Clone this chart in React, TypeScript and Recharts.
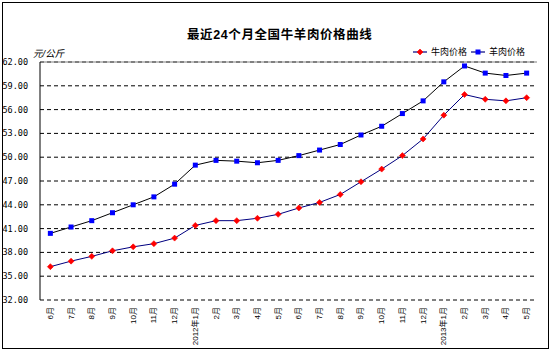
import React from "react";
import {
  CartesianGrid,
  Line,
  LineChart,
  ReferenceLine,
  XAxis,
  YAxis,
} from "recharts";

const months = [
  "6月", "7月", "8月", "9月", "10月", "11月", "12月", "2012年1月",
  "2月", "3月", "4月", "5月", "6月", "7月", "8月", "9月", "10月", "11月",
  "12月", "2013年1月", "2月", "3月", "4月", "5月",
];

// 牛肉价格 (元/公斤)
const beefPrices = [
  36.2, 36.9, 37.5, 38.2, 38.7, 39.1, 39.8, 41.4, 42.0, 42.0, 42.3, 42.8,
  43.6, 44.3, 45.3, 46.9, 48.5, 50.2, 52.3, 55.3, 57.9, 57.3, 57.1, 57.5,
];

// 羊肉价格 (元/公斤)
const muttonPrices = [
  40.4, 41.2, 42.0, 43.0, 44.0, 45.0, 46.6, 49.0, 49.6, 49.5, 49.3, 49.6,
  50.2, 50.9, 51.6, 52.8, 53.9, 55.5, 57.1, 59.5, 61.5, 60.6, 60.3, 60.6,
];

const yTicks = [32, 35, 38, 41, 44, 47, 50, 53, 56, 59, 62];

const data = months.map((m, i) => ({
  month: m,
  beef: beefPrices[i],
  mutton: muttonPrices[i],
}));

// excel-style tick marks sit between categories
const boundaryTicks = months.map((_, i) => i).concat(months.length);

const PLOT_W = 497;
// half a category on each side so points sit mid-slot
const HALF_SLOT = PLOT_W / months.length / 2;

const CJK = '"Liberation Sans", "Noto Sans CJK SC", sans-serif';
const BEEF_LINE = "#000080";
const MUTTON_LINE = "#000000";

function BeefDot({ cx, cy }: any) {
  if (cx == null || cy == null) return null;
  const r = 3;
  return (
    <path
      d={`M${cx} ${cy - r}L${cx + r} ${cy}L${cx} ${cy + r}L${cx - r} ${cy}Z`}
      fill="#ff0000"
      stroke="#ff0000"
      strokeWidth={0.6}
    />
  );
}

function MuttonDot({ cx, cy }: any) {
  if (cx == null || cy == null) return null;
  return <rect x={cx - 2.5} y={cy - 2.5} width={5} height={5} fill="#0000ff" />;
}

function MonthTick({ x, y, payload }: any) {
  return (
    <g transform={`translate(${x},${y})`}>
      <text
        transform="rotate(-90)"
        x={-7}
        y={0}
        textAnchor="end"
        dominantBaseline="central"
        fontSize={8}
        fontFamily={CJK}
        fill="#000"
      >
        {payload.value}
      </text>
    </g>
  );
}

function PriceTick({ x, y, payload }: any) {
  return (
    <text
      x={x}
      y={y}
      textAnchor="end"
      dominantBaseline="central"
      fontSize={8.5}
      fontFamily='"DejaVu Sans Mono", monospace'
      fill="#000"
    >
      {payload.value.toFixed(2)}
    </text>
  );
}

function LegendItem({ label, line, dot }: { label: string; line: string; dot: "beef" | "mutton" }) {
  return (
    <span style={{ display: "inline-flex", alignItems: "center", marginRight: 4 }}>
      <svg width={14} height={8} style={{ marginRight: 4 }}>
        <line x1={0} y1={4} x2={14} y2={4} stroke={line} strokeWidth={1.2} />
        {dot === "beef" ? <BeefDot cx={7} cy={4} /> : <MuttonDot cx={7} cy={4} />}
      </svg>
      <span>{label}</span>
    </span>
  );
}

export default function App() {
  return (
    <div
      style={{
        position: "absolute",
        left: 0,
        top: 0,
        width: 553,
        height: 354,
        background: "#fff",
        fontFamily: CJK,
      }}
    >
      <div
        style={{
          position: "absolute",
          left: 2,
          top: 2,
          width: 545,
          height: 345,
          border: "1.5px solid #000",
        }}
      />
      <div
        style={{
          position: "absolute",
          left: 187,
          top: 24,
          fontSize: 12.5,
          fontWeight: "bold",
          letterSpacing: 0.6,
          whiteSpace: "nowrap",
        }}
      >
        最近24个月全国牛羊肉价格曲线
      </div>
      <div
        style={{
          position: "absolute",
          left: 33,
          top: 46,
          fontSize: 9.5,
          fontStyle: "italic",
        }}
      >
        元/公斤
      </div>
      <div
        style={{
          position: "absolute",
          left: 413,
          top: 45,
          fontSize: 9,
          display: "flex",
          alignItems: "center",
        }}
      >
        <LegendItem label="牛肉价格" line={BEEF_LINE} dot="beef" />
        <LegendItem label="羊肉价格" line={BEEF_LINE} dot="mutton" />
      </div>
      <div style={{ position: "absolute", left: 0, top: 0 }}>
        <LineChart
          width={553}
          height={354}
          data={data}
          margin={{ top: 62, right: 16, bottom: 0, left: 3 }}
        >
          <CartesianGrid
            horizontal
            vertical={false}
            stroke="#000"
            strokeDasharray="4 3"
          />
          <XAxis
            xAxisId="bounds"
            type="number"
            domain={[0, months.length]}
            ticks={boundaryTicks}
            allowDataOverflow
            height={0}
            tick={false}
            tickSize={3}
            axisLine={{ stroke: "#000" }}
            tickLine={{ stroke: "#000" }}
          />
          <XAxis
            dataKey="month"
            padding={{ left: HALF_SLOT, right: HALF_SLOT }}
            height={54}
            interval={0}
            axisLine={false}
            tickLine={false}
            tickSize={0}
            tickMargin={0}
            tick={<MonthTick />}
          />
          <YAxis
            domain={[32, 62]}
            ticks={yTicks}
            width={37}
            axisLine={{ stroke: "#000" }}
            tickLine={false}
            tickSize={0}
            tickMargin={12}
            tick={<PriceTick />}
          />
          <YAxis
            yAxisId="frame"
            orientation="right"
            domain={[32, 62]}
            width={0}
            tick={false}
            tickLine={false}
            axisLine={{ stroke: "#808080" }}
          />
          <ReferenceLine y={62} stroke="#808080" />
          <Line
            dataKey="mutton"
            name="羊肉价格"
            stroke={MUTTON_LINE}
            strokeWidth={1}
            dot={<MuttonDot />}
            activeDot={false}
            isAnimationActive={false}
          />
          <Line
            dataKey="beef"
            name="牛肉价格"
            stroke={BEEF_LINE}
            strokeWidth={1}
            dot={<BeefDot />}
            activeDot={false}
            isAnimationActive={false}
          />
        </LineChart>
      </div>
    </div>
  );
}
